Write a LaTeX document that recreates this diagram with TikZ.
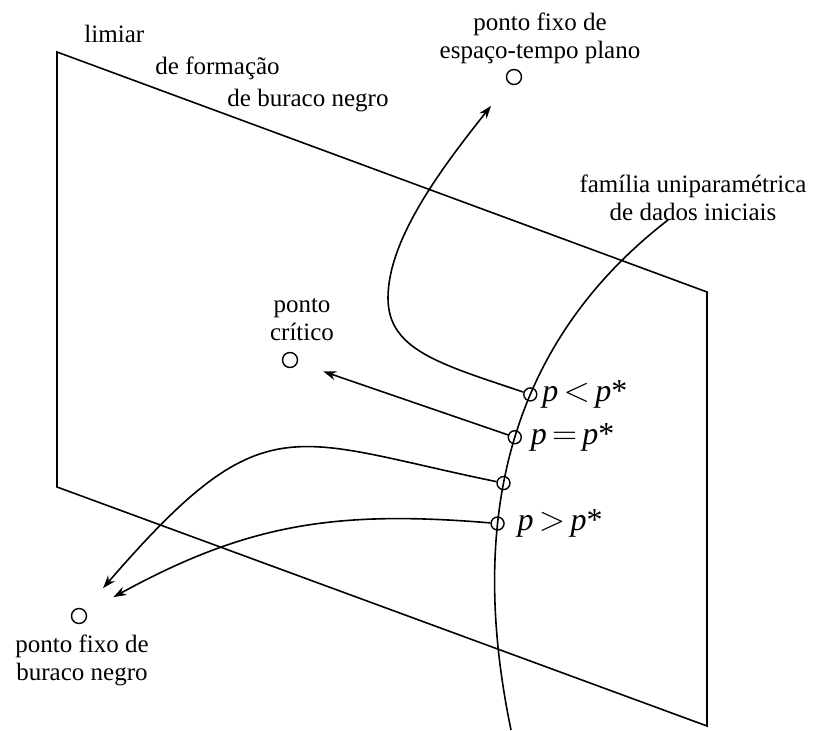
\documentclass[tikz,border=0pt]{standalone}
\usepackage{fontspec}
\setmainfont{Liberation Serif}
\usetikzlibrary{arrows.meta}
\begin{document}
\begin{tikzpicture}[x=0.5pt,y=-0.5pt,>={Stealth[length=6.5pt,width=4.5pt]},line width=0.8pt,
  every node/.style={font=\fontsize{12.5}{14}\selectfont},
  fixpt/.style={circle,draw,line width=0.7pt,inner sep=0pt,minimum size=7.5pt},
  datapt/.style={circle,draw,line width=0.7pt,inner sep=0pt,minimum size=6.5pt},
  plabel/.style={anchor=west,inner sep=2pt,font=\fontsize{16}{18}\selectfont}]
\useasboundingbox (0,0) rectangle (815,731);
\draw (57,52) -- (707,292) -- (707,726) -- (57,487) -- cycle;
\node[anchor=base west] (T1) at (77,43) {limiar};
\node[anchor=base west] (T2) at (148,75) {de formação};
\node[anchor=base west] (T3) at (220,107) {de buraco negro};
\node[fixpt] (flat) at (514,77) {};
\node[align=center] (flatlbl) at (540,38) {ponto fixo de\\espaço-tempo plano};
\node[fixpt] (crit) at (290,360) {};
\node[align=center] (critlbl) at (302,320) {ponto\\crítico};
\node[fixpt] (bh) at (79,616) {};
\node[align=center] (bhlbl) at (82,660) {ponto fixo de\\buraco negro};
\node[align=center] (famlbl) at (693,198) {família uniparamétrica\\de dados iniciais};
\draw (668,220) .. controls (474,370) and (480,580) .. (511,730)
  node[datapt,pos=0.35] (pless) {}
  node[datapt,pos=0.43] (pcrit) {}
  node[datapt,pos=0.515] (pmid) {}
  node[datapt,pos=0.59] (pmore) {};
\node[plabel] (lless) at (pless.east) {\textit{p}\,$<$\,\textit{p}*};
\node[plabel,xshift=2pt] (lcrit) at (pcrit.east) {\textit{p}\,$=$\,\textit{p}*};
\node[plabel,xshift=4pt] (lmore) at (pmore.east) {\textit{p}\,$>$\,\textit{p}*};
\draw[->,shorten >=14.3pt] (pless) .. controls (440,364) and (388,350) .. (388,298)
  .. controls (388,240) and (440,170) .. (flat);
\draw[->,shorten >=13.5pt] (pcrit) -- (crit);
\draw[->,shorten >=14.3pt] (pmid) .. controls (289,439) and (264,402) .. (bh);
\draw[->,shorten >=15.5pt] (pmore) .. controls (335,510) and (247,524) .. (bh);
\end{tikzpicture}
\end{document}
